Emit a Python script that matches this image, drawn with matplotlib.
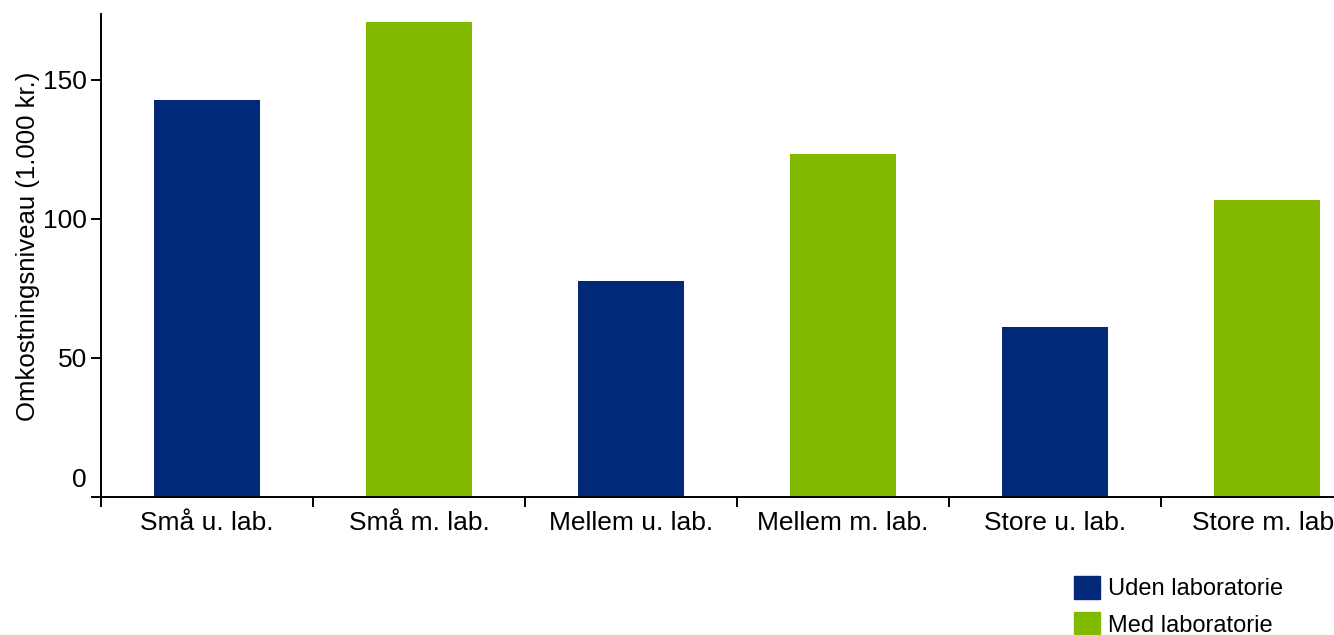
import matplotlib.pyplot as plt
from matplotlib.patches import Patch
import numpy as np

plt.rcParams['font.family'] = ['Liberation Sans', 'DejaVu Sans']

categories = ["Små u. lab.", "Små m. lab.", "Mellem u. lab.", "Mellem m. lab.",
              "Store u. lab.", "Store m. lab."]
values = [142.8, 170.9, 77.7, 123.4, 61.2, 106.8]
groups = ["uden", "med", "uden", "med", "uden", "med"]
legend_labels = ["Uden laboratorie", "Med laboratorie"]
y_ticks = [0, 50, 100, 150]

navy = "#02287A"
green = "#82BA00"
colors = [navy if g == "uden" else green for g in groups]

W, H = 1334, 635
fig = plt.figure(figsize=(W / 100, H / 100), dpi=100)
# axes runs a bit past the right figure edge, as in the original
ax = fig.add_axes([101 / W, 1 - 497 / H, 1272 / W, 483 / H])

x = np.arange(len(categories))
ax.bar(x, values, width=0.5, color=colors)

ax.set_xlim(-0.5, len(categories) - 0.5)
ax.set_ylim(0, 173.7)

for side in ["top", "right"]:
    ax.spines[side].set_visible(False)
for side in ["left", "bottom"]:
    ax.spines[side].set_linewidth(1.4)

ax.set_xticks(x)
ax.set_xticklabels(categories, fontsize=19)
ax.set_xticks(np.arange(len(categories) + 1) - 0.5, minor=True)
ax.tick_params(axis="x", which="major", length=0, pad=10)
ax.tick_params(axis="x", which="minor", length=7, width=1.4, direction="out")

ax.set_yticks(y_ticks)
ax.set_yticklabels([""] + [str(t) for t in y_ticks[1:]], fontsize=19)
ax.tick_params(axis="y", length=7, width=1.4, pad=3)
# zero label sits above the axis line
ax.text(-0.011, 0.035, "0", transform=ax.transAxes, ha="right", va="center", fontsize=19)

ax.set_ylabel("Omkostningsniveau (1.000 kr.)", fontsize=18.5)
ax.yaxis.set_label_coords(-0.048, 0.52)

handles = [Patch(color=navy), Patch(color=green)]
fig.legend(handles, legend_labels, loc="upper left", bbox_to_anchor=(1074 / W, 1 - 576 / H),
           frameon=False, fontsize=17, borderpad=0, handlelength=1.1, handleheight=1.1,
           handletextpad=0.35, labelspacing=0.5, borderaxespad=0)

fig.savefig("out.png", dpi=100)
